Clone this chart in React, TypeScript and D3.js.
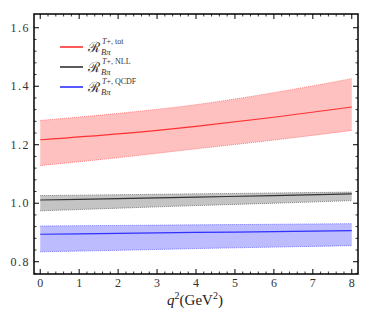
import React, { useEffect, useRef } from 'react';
import * as d3 from 'd3';

// q^2 sample points (GeV^2)
const q2 = [0, 2, 4, 6, 8];

// R^{T+,tot}
const totCentral = [1.217, 1.237, 1.263, 1.294, 1.329];
const totUpper = [1.283, 1.307, 1.337, 1.378, 1.426];
const totLower = [1.129, 1.156, 1.186, 1.216, 1.249];

// R^{T+,NLL}
const nllCentral = [1.011, 1.016, 1.021, 1.026, 1.032];
const nllUpper = [1.026, 1.029, 1.032, 1.035, 1.038];
const nllLower = [0.974, 0.983, 0.992, 1.0, 1.009];

// R^{T+,QCDF}
const qcdfCentral = [0.894, 0.897, 0.9, 0.903, 0.906];
const qcdfUpper = [0.922, 0.924, 0.926, 0.928, 0.93];
const qcdfLower = [0.834, 0.839, 0.845, 0.85, 0.855];

const xTicks = [0, 1, 2, 3, 4, 5, 6, 7, 8];
const yTicks = [0.8, 1.0, 1.2, 1.4, 1.6];
const legendSups = ['T+, tot', 'T+, NLL', 'T+, QCDF'];

const App = () => {
  const svgRef = useRef<SVGSVGElement>(null);

  useEffect(() => {
    const svg = d3.select(svgRef.current);
    svg.selectAll('*').remove();

    const width = 374;
    const height = 312;
    const margin = { top: 14, right: 16, bottom: 38, left: 34 };
    const innerWidth = width - margin.left - margin.right;
    const innerHeight = height - margin.top - margin.bottom;

    const g = svg.append('g').attr('transform', `translate(${margin.left},${margin.top})`);

    const x = d3.scaleLinear().domain([-0.16, 8.16]).range([0, innerWidth]);
    const y = d3.scaleLinear().domain([0.758, 1.647]).range([innerHeight, 0]);

    const series = [
      { c: totCentral, u: totUpper, l: totLower, fill: '#ffc0c0', edge: '#ff8080', line: '#ff3030' },
      { c: nllCentral, u: nllUpper, l: nllLower, fill: '#c4c4c4', edge: '#808080', line: '#333333' },
      { c: qcdfCentral, u: qcdfUpper, l: qcdfLower, fill: '#bcbcff', edge: '#7a7aff', line: '#3030ff' },
    ];

    const curve = d3.curveMonotoneX;

    series.forEach((s) => {
      const area = d3
        .area<number>()
        .x((d) => x(d))
        .y0((_, i) => y(s.l[i]))
        .y1((_, i) => y(s.u[i]))
        .curve(curve);
      g.append('path').attr('d', area(q2)).attr('fill', s.fill);

      [s.u, s.l].forEach((arr) => {
        const ln = d3
          .line<number>()
          .x((d) => x(d))
          .y((_, i) => y(arr[i]))
          .curve(curve);
        g.append('path')
          .attr('d', ln(q2))
          .attr('fill', 'none')
          .attr('stroke', s.edge)
          .attr('stroke-width', 1)
          .attr('stroke-dasharray', '1,1');
      });

      const cl = d3
        .line<number>()
        .x((d) => x(d))
        .y((_, i) => y(s.c[i]))
        .curve(curve);
      g.append('path')
        .attr('d', cl(q2))
        .attr('fill', 'none')
        .attr('stroke', s.line)
        .attr('stroke-width', 1.2);
    });

    // frame
    g.append('rect')
      .attr('width', innerWidth)
      .attr('height', innerHeight)
      .attr('fill', 'none')
      .attr('stroke', '#000')
      .attr('stroke-width', 1.5);

    // ticks
    const xMinor = d3.range(0, 8.001, 0.2);
    const yMinor = d3.range(0.76, 1.64, 0.04);
    const tk = g.append('g').attr('stroke', '#000');
    xMinor.forEach((v) => {
      const major = xTicks.some((t) => Math.abs(t - v) < 1e-6);
      const len = major ? 5 : 2.5;
      tk.append('line').attr('x1', x(v)).attr('x2', x(v)).attr('y1', innerHeight).attr('y2', innerHeight - len).attr('stroke-width', major ? 1 : 0.8);
      tk.append('line').attr('x1', x(v)).attr('x2', x(v)).attr('y1', 0).attr('y2', len).attr('stroke-width', major ? 1 : 0.8);
    });
    yMinor.forEach((v) => {
      if (y(v) < 0 || y(v) > innerHeight) return;
      const major = yTicks.some((t) => Math.abs(t - v) < 1e-6);
      const len = major ? 5 : 2.5;
      tk.append('line').attr('x1', 0).attr('x2', len).attr('y1', y(v)).attr('y2', y(v)).attr('stroke-width', major ? 1 : 0.8);
      tk.append('line').attr('x1', innerWidth).attr('x2', innerWidth - len).attr('y1', y(v)).attr('y2', y(v)).attr('stroke-width', major ? 1 : 0.8);
    });

    const font = '"Liberation Serif", "DejaVu Serif", serif';
    g.selectAll('.xl')
      .data(xTicks)
      .enter()
      .append('text')
      .attr('x', (d) => x(d))
      .attr('y', innerHeight + 13)
      .attr('text-anchor', 'middle')
      .attr('font-family', font)
      .attr('font-size', 12)
      .attr('fill', '#333')
      .text((d) => d3.format('d')(d));

    g.selectAll('.yl')
      .data(yTicks)
      .enter()
      .append('text')
      .attr('x', -4)
      .attr('y', (d) => y(d) + 4)
      .attr('text-anchor', 'end')
      .attr('font-family', font)
      .attr('font-size', 12)
      .attr('letter-spacing', 1.5)
      .attr('fill', '#333')
      .text((d) => d3.format('.1f')(d));

    // axis title
    const t = svg
      .append('text')
      .attr('x', 195)
      .attr('y', 305)
      .attr('text-anchor', 'middle')
      .attr('font-family', font)
      .attr('font-size', 15)
      .attr('fill', '#222');
    t.append('tspan').attr('font-style', 'italic').text('q');
    t.append('tspan').attr('dy', -6).attr('font-size', 10).text('2');
    t.append('tspan').attr('dy', 6).text('(GeV');
    t.append('tspan').attr('dy', -6).attr('font-size', 10).text('2');
    t.append('tspan').attr('dy', 6).text(')');

    // legend
    series.forEach((s, i) => {
      const ly = 47 + i * 20;
      svg.append('line').attr('x1', 60).attr('x2', 83).attr('y1', ly).attr('y2', ly).attr('stroke', s.line).attr('stroke-width', 1.6);
      svg.append('text')
        .attr('x', 88)
        .attr('y', ly + 5)
        .attr('font-family', '"DejaVu Serif", serif')
        .attr('font-size', 14)
        .attr('fill', '#333')
        .text('\u211B');
      svg.append('text')
        .attr('x', 101)
        .attr('y', ly + 8)
        .attr('font-family', font)
        .attr('font-size', 8.5)
        .attr('font-style', 'italic')
        .attr('fill', '#333')
        .text('B\u03C0');
      const sup = svg.append('text')
        .attr('x', 102)
        .attr('y', ly - 3)
        .attr('font-family', font)
        .attr('font-size', 8)
        .attr('fill', '#333');
      sup.append('tspan').attr('font-style', 'italic').text('T');
      sup.append('tspan').text(legendSups[i].slice(1));
    });
  }, []);

  return <svg ref={svgRef} width={374} height={312} style={{ position: 'absolute', left: 0, top: 0 }}></svg>;
};

export default App;
